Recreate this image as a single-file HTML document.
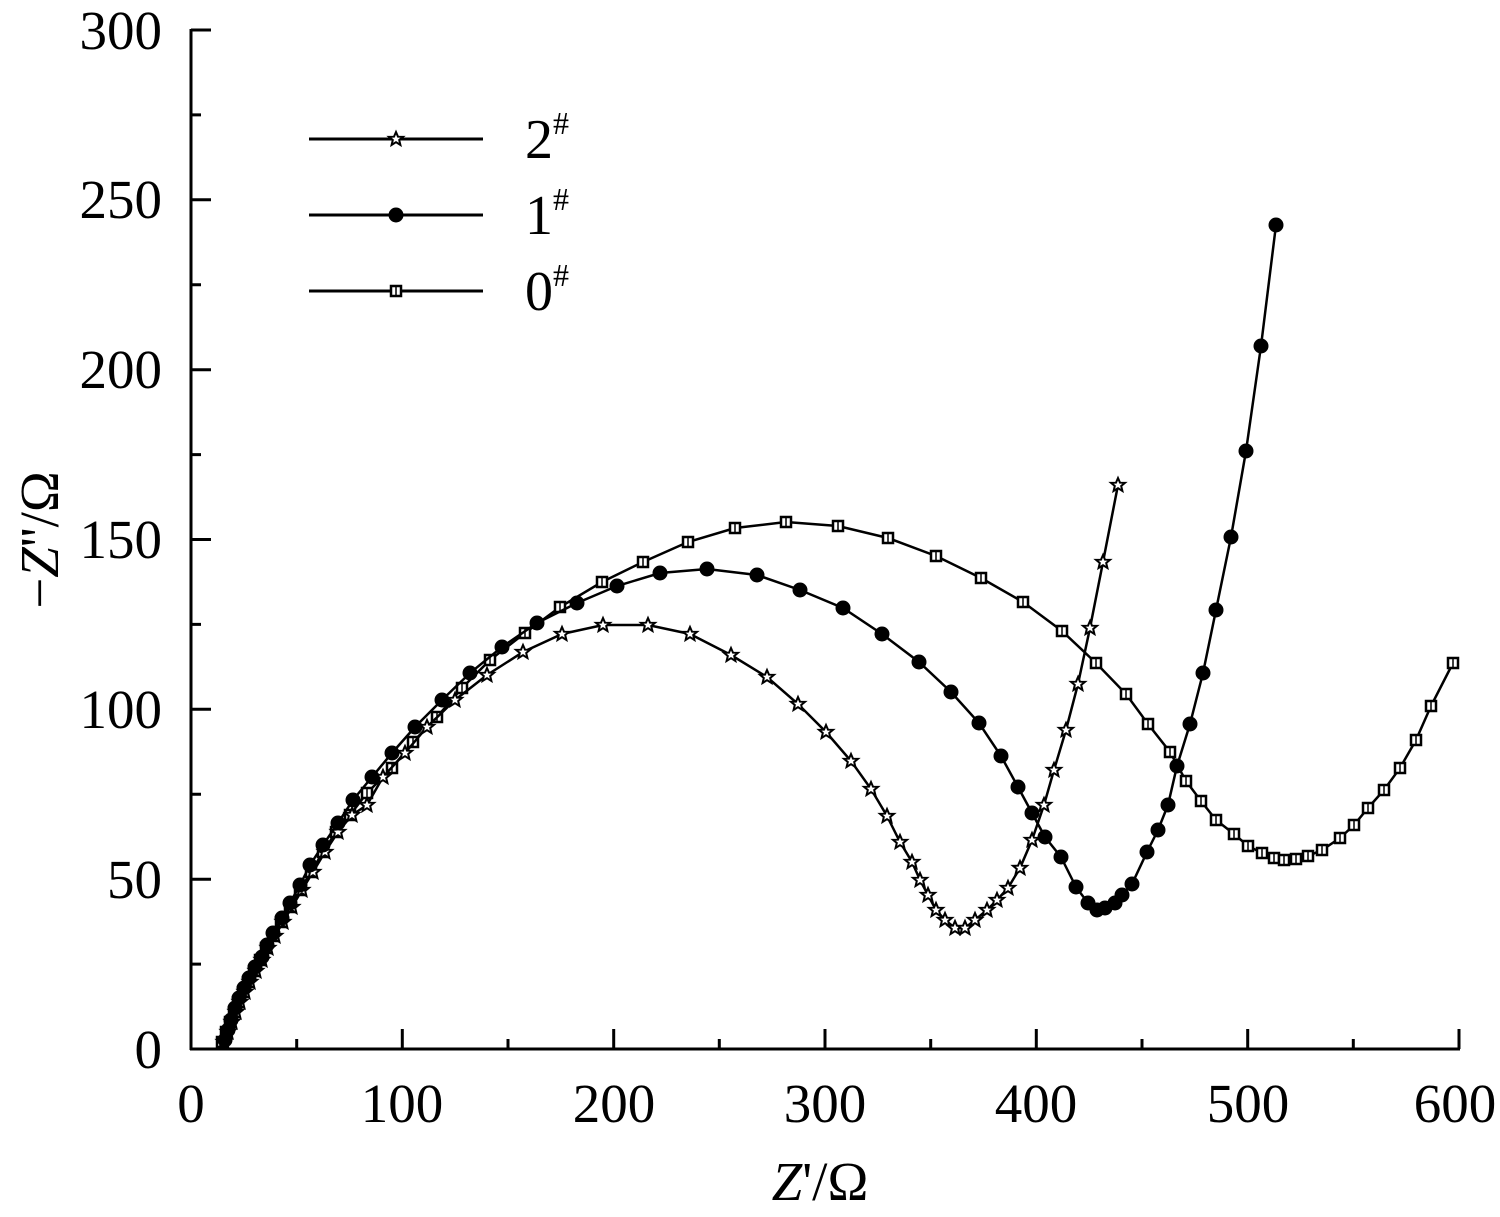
<!DOCTYPE html>
<html><head><meta charset="utf-8"><style>body{margin:0;background:#fff}svg{display:block}text{font-family:"Liberation Serif",serif;fill:#000}</style></head><body>
<svg width="1500" height="1217" viewBox="0 0 1500 1217" xmlns="http://www.w3.org/2000/svg">
<defs>
<marker id="msq" markerUnits="userSpaceOnUse" markerWidth="16" markerHeight="16" refX="8" refY="8" overflow="visible"><rect x="3" y="3" width="10" height="10" fill="#fff" stroke="#000" stroke-width="2.5"/><line x1="8" y1="4" x2="8" y2="12" stroke="#000" stroke-width="1.5"/></marker>
<marker id="mci" markerUnits="userSpaceOnUse" markerWidth="16" markerHeight="16" refX="8" refY="8" overflow="visible"><circle cx="8" cy="8" r="7.5" fill="#000"/></marker>
<marker id="mst" markerUnits="userSpaceOnUse" markerWidth="16" markerHeight="16" refX="8" refY="8" overflow="visible"><polygon transform="translate(8,8)" points="0,-7 2,-2.3 7,-2.2 3.2,1 4.4,6 0,3.2 -4.4,6 -3.2,1 -7,-2.2 -2,-2.3" fill="#fff" stroke="#000" stroke-width="2"/></marker>
</defs>
<g stroke="#000" stroke-width="3" fill="none">
<line x1="191" y1="29" x2="191" y2="1050"/><line x1="190" y1="1049" x2="1460" y2="1049"/>
<path d="M191 964.1h10M191 879.2h20M191 794.2h10M191 709.3h20M191 624.4h10M191 539.5h20M191 454.6h10M191 369.7h20M191 284.7h10M191 199.8h20M191 114.9h10M191 30h20
M296.7 1049v-10M402.3 1049v-20M508 1049v-10M613.7 1049v-20M719.3 1049v-10M825 1049v-20M930.7 1049v-10M1036.3 1049v-20M1142 1049v-10M1247.7 1049v-20M1353.3 1049v-10M1459 1049v-20"/>
</g>
<g font-size="55" text-anchor="end">
<text x="162" y="1068">0</text><text x="162" y="898">50</text><text x="162" y="728">100</text><text x="162" y="558">150</text><text x="162" y="388">200</text><text x="162" y="218">250</text><text x="162" y="49">300</text>
</g>
<g font-size="55" text-anchor="middle">
<text x="191" y="1122">0</text><text x="402" y="1122">100</text><text x="614" y="1122">200</text><text x="825" y="1122">300</text><text x="1036" y="1122">400</text><text x="1248" y="1122">500</text><text x="1455" y="1122">600</text>
<text x="820" y="1200"><tspan font-style="italic">Z</tspan>'/Ω</text>
<text transform="translate(58,540) rotate(-90)">−<tspan font-style="italic">Z</tspan>''/Ω</text>
</g>
<g font-size="56"><text x="525" y="158">2<tspan font-size="32" dy="-24">#</tspan></text><text x="525" y="234">1<tspan font-size="32" dy="-24">#</tspan></text><text x="525" y="310">0<tspan font-size="32" dy="-24">#</tspan></text></g>
<g stroke="#000" stroke-width="3" fill="none">
<polyline points="309,139 396,139 483,139" marker-mid="url(#mst)"/>
<polyline points="309,215 396,215 483,215" marker-mid="url(#mci)"/>
<polyline points="309,291 396,291 483,291" marker-mid="url(#msq)"/>
</g>
<g stroke="#000" stroke-width="2.5" fill="none">
<polyline marker-start="url(#msq)" marker-mid="url(#msq)" marker-end="url(#msq)" points="222,1042 226,1032 230,1022 234,1012 238,1002 243,992 248,982 254,971 260,960 266,948 273,936 281,922 290,907 300,890 311,872 323,852 336,832 350,815 367,793 392,768 413,742 437,717 462,688 490,660 525,633 560,607 602,582 643,562 688,542 735,528 786,522 838,526 888,538 936,556 981,578 1023,602 1062,631 1096,663 1126,694 1148,724 1170,752 1186,781 1201,801 1216,820 1234,834 1248,846 1262,853 1274,858 1284,860 1296,859 1308,856 1322,850 1340,838 1354,825 1368,808 1384,790 1400,768 1416,740 1431,706 1453,663"/>
<polyline marker-start="url(#mst)" marker-mid="url(#mst)" marker-end="url(#mst)" points="224,1042 228,1032 232,1022 236,1012 240,1002 245,992 250,982 256,971 262,960 268,948 275,936 283,922 292,907 302,890 313,872 325,852 338,832 352,815 367,805 383,777 405,753 427,727 455,700 487,675 523,652 562,634 603,625 648,625 690,634 731,655 767,677 798,704 826,732 851,761 871,789 887,816 900,842 912,862 920,880 928,895 936,910 945,920 955,928 965,928 975,920 987,910 997,900 1008,888 1020,868 1032,840 1044,805 1054,770 1066,730 1078,684 1090,628 1103,562 1118,485"/>
<polyline marker-start="url(#mci)" marker-mid="url(#mci)" marker-end="url(#mci)" points="225,1040 228,1030 231,1020 235,1008 239,998 244,988 249,978 255,967 262,957 267,945 273,933 282,918 290,903 300,885 310,865 323,845 338,823 353,800 372,777 392,753 415,727 442,700 470,673 502,647 537,623 577,603 617,586 660,573 707,569 757,575 800,590 843,608 882,634 919,662 951,692 979,723 1001,756 1018,787 1032,813 1045,837 1061,857 1076,887 1088,903 1097,910 1105,908 1115,903 1122,895 1132,884 1147,852 1158,830 1168,805 1177,766 1190,724 1203,673 1216,610 1231,537 1246,451 1261,346 1276,225"/>
</g>
</svg>
</body></html>
